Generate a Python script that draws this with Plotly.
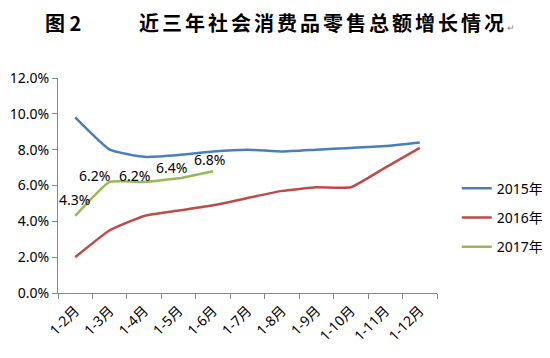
import plotly.graph_objects as go

categories = ["1-2月", "1-3月", "1-4月", "1-5月", "1-6月", "1-7月", "1-8月", "1-9月", "1-10月", "1-11月", "1-12月"]
s2015 = [9.8, 8.0, 7.6, 7.7, 7.9, 8.0, 7.9, 8.0, 8.1, 8.2, 8.4]
s2016 = [2.0, 3.5, 4.3, 4.6, 4.9, 5.3, 5.7, 5.9, 5.9, 7.0, 8.1]
s2017 = [4.3, 6.2, 6.2, 6.4, 6.8]
names = ["2015年", "2016年", "2017年"]
colors = ["#4A7EBB", "#BE4B48", "#98B954"]
yticks = [0, 2, 4, 6, 8, 10, 12]

FONT = "Noto Sans, Noto Sans CJK SC, sans-serif"
TFONT = "Noto Sans CJK SC, serif"

fig = go.Figure()
for name, vals, col in zip(names, [s2015, s2016, s2017], colors):
    fig.add_trace(go.Scatter(
        x=categories[:len(vals)], y=vals, mode="lines", name=name,
        line=dict(color=col, width=2.5, shape="spline", smoothing=0.4),
        legendgroup=name,
    ))

# data labels for 2017
shifts = [(-1, 16), (-15, 6), (-10, 6), (-7, 11), (-4, 12)]
for (cat, v), (dx, dy) in zip(zip(categories, s2017), shifts):
    fig.add_annotation(x=cat, y=v, text=f"{v:.1f}%", showarrow=False,
                       xshift=dx, yshift=dy, font=dict(size=14, color="#000", family=FONT))

# title (two parts)
fig.add_annotation(xref="paper", yref="paper", x=-0.0396, y=1.0, yshift=56,
                   xanchor="left", yanchor="middle", showarrow=False,
                   text="<b>图 2</b>",
                   font=dict(size=20, color="#000", family=TFONT))
fig.add_annotation(xref="paper", yref="paper", x=0.2085, y=1.0, yshift=56,
                   xanchor="left", yanchor="middle", showarrow=False,
                   text="<b><span style='letter-spacing:3px'>近三年社会消费品零售总额增长情况</span></b><span style='font-size:9px;color:#888'>↵</span>",
                   font=dict(size=20, color="#000", family=TFONT))

fig.update_layout(
    width=542, height=350,
    margin=dict(l=50, r=113, t=70, b=65),
    plot_bgcolor="white", paper_bgcolor="white",
    font=dict(family=FONT, size=13, color="#000"),
    showlegend=True,
    legend=dict(xref="container", yref="container", x=0.828, y=0.401,
                xanchor="left", yanchor="middle",
                font=dict(size=14, color="#000", family=FONT),
                tracegroupgap=8, bgcolor="rgba(0,0,0,0)"),
    xaxis=dict(type="category", showgrid=False, showline=True, linecolor="#888", linewidth=1,
               ticks="outside", ticklen=5, tickcolor="#888", tickson="boundaries",
               tickangle=-45, tickfont=dict(size=14, color="#000"), range=[-0.5, 10.5],
               ticklabelstandoff=3, automargin=False),
    yaxis=dict(range=[0, 12], tickvals=yticks, ticktext=[f"{v:.1f}%" for v in yticks],
               showgrid=False, showline=True, linecolor="#888", linewidth=1,
               ticks="outside", ticklen=5, tickcolor="#888", zeroline=False,
               tickfont=dict(size=14, color="#000"), automargin=False),
)

fig.write_html("out.html")
